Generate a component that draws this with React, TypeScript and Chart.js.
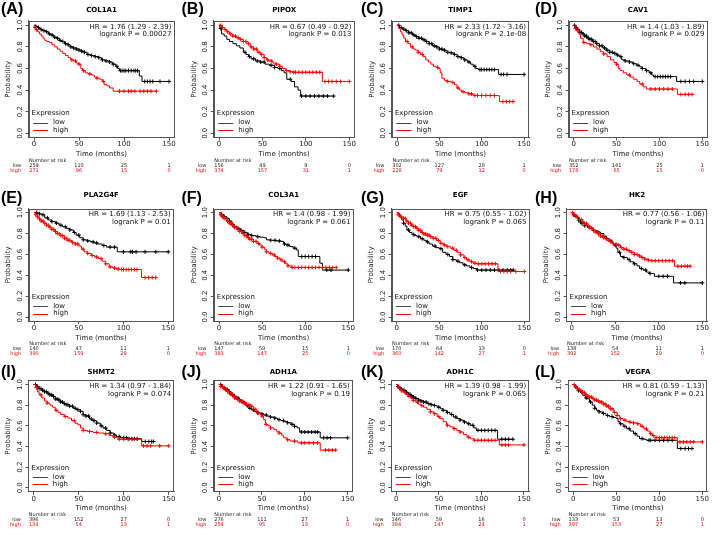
import React, { useEffect, useRef } from 'react';
import { Chart, registerables } from 'chart.js';
Chart.register(...registerables);

const FAMILY = 'DejaVu Sans';
const X_TICKS = [0, 50, 100, 150];
const Y_TICKS = [0, 0.2, 0.4, 0.6, 0.8, 1.0];
const RISK_TIMES = [0, 50, 100, 150];
const LOW_COLOR = '#000000';
const HIGH_COLOR = '#ff0000';

const PANEL_LABELS = ['(A)', '(B)', '(C)', '(D)', '(E)', '(F)', '(G)', '(H)', '(I)', '(J)', '(K)', '(L)'];
const GENES = ['COL1A1', 'PIPOX', 'TIMP1', 'CAV1', 'PLA2G4F', 'COL3A1', 'EGF', 'HK2', 'SHMT2', 'ADH1A', 'ADH1C', 'VEGFA'];
const HR_TEXT = [
  'HR = 1.76 (1.29 - 2.39)', 'HR = 0.67 (0.49 - 0.92)', 'HR = 2.33 (1.72 - 3.16)', 'HR = 1.4 (1.03 - 1.89)',
  'HR = 1.69 (1.13 - 2.53)', 'HR = 1.4 (0.98 - 1.99)', 'HR = 0.75 (0.55 - 1.02)', 'HR = 0.77 (0.56 - 1.06)',
  'HR = 1.34 (0.97 - 1.84)', 'HR = 1.22 (0.91 - 1.65)', 'HR = 1.39 (0.98 - 1.99)', 'HR = 0.81 (0.59 - 1.13)',
];
const P_TEXT = [
  'logrank P = 0.00027', 'logrank P = 0.013', 'logrank P = 2.1e-08', 'logrank P = 0.029',
  'logrank P = 0.01', 'logrank P = 0.061', 'logrank P = 0.065', 'logrank P = 0.11',
  'logrank P = 0.074', 'logrank P = 0.19', 'logrank P = 0.065', 'logrank P = 0.21',
];
const RISK_LOW = [
  [259, 110, 25, 1], [156, 49, 9, 0], [302, 127, 28, 1], [352, 141, 25, 1],
  [140, 47, 11, 1], [147, 59, 15, 1], [170, 64, 13, 0], [138, 54, 11, 1],
  [396, 152, 27, 0], [276, 111, 27, 1], [146, 59, 16, 0], [133, 53, 13, 0],
];
const RISK_HIGH = [
  [271, 96, 15, 0], [374, 157, 31, 1], [228, 79, 12, 0], [178, 65, 15, 0],
  [390, 159, 29, 0], [383, 147, 25, 0], [360, 142, 27, 1], [392, 152, 29, 0],
  [134, 54, 13, 1], [254, 95, 13, 0], [384, 147, 24, 1], [397, 153, 27, 1],
];

// ---- Kaplan-Meier step points [months, survival] and censor times ----
const A_low = [[0,1],[2,0.99],[4,0.98],[6,0.97],[8,0.96],[10,0.95],[13,0.94],[16,0.92],[19,0.91],[22,0.89],[25,0.88],[28,0.86],[31,0.85],[34,0.83],[37,0.82],[40,0.8],[43,0.79],[47,0.78],[50,0.77],[53,0.76],[56,0.75],[59,0.73],[63,0.72],[68,0.71],[72,0.7],[75,0.68],[79,0.67],[83,0.66],[87,0.64],[91,0.62],[93,0.6],[95,0.58],[117,0.53],[120,0.48],[150,0.48]];
const A_lowCens = [2,5,8,11,14,17,20,23,26,29,32,35,38,41,44,47,50,53,56,60,64,68,72,76,80,84,88,92,96,98,100,102,105,108,111,113,115,123,126,129,132,140,150];
const A_high = [[0,1],[1,0.98],[2,0.96],[4,0.94],[6,0.92],[8,0.9],[10,0.88],[12,0.86],[14,0.85],[17,0.84],[20,0.82],[23,0.8],[26,0.78],[29,0.76],[32,0.74],[35,0.72],[38,0.7],[41,0.68],[44,0.67],[47,0.65],[50,0.64],[52,0.6],[54,0.58],[57,0.56],[60,0.55],[64,0.54],[67,0.52],[70,0.51],[73,0.5],[76,0.48],[78,0.45],[81,0.44],[84,0.42],[88,0.39],[136,0.39]];
const A_highCens = [1,3,42,46,50,55,62,70,77,95,100,105,108,112,118,122,126,130,136];

const B_low = [[0,1],[1,0.97],[3,0.92],[6,0.9],[9,0.87],[12,0.85],[16,0.83],[20,0.81],[24,0.79],[28,0.75],[31,0.73],[34,0.71],[37,0.69],[42,0.67],[47,0.66],[53,0.64],[58,0.63],[64,0.61],[68,0.6],[72,0.58],[75,0.56],[78,0.5],[83,0.48],[87,0.43],[91,0.4],[94,0.345],[132,0.345]];
const B_lowCens = [2,30,35,40,44,48,52,60,64,70,82,95,100,105,110,115,120,125,132];
const B_high = [[0,1],[3,0.98],[6,0.96],[9,0.94],[12,0.92],[16,0.9],[20,0.885],[24,0.87],[28,0.85],[32,0.83],[36,0.8],[40,0.78],[44,0.75],[48,0.73],[52,0.7],[55,0.68],[57,0.67],[62,0.65],[66,0.64],[70,0.62],[73,0.6],[77,0.58],[82,0.57],[86,0.565],[117,0.565],[119,0.48],[150,0.48]];
const B_highCens = [2,4,7,10,13,16,19,22,25,28,31,34,37,40,43,46,49,52,56,60,66,70,78,82,86,88,92,96,100,104,108,112,116,122,126,130,135,140,150];

const C_low = [[0,1],[3,0.98],[6,0.965],[10,0.95],[14,0.93],[18,0.91],[22,0.895],[26,0.88],[30,0.865],[34,0.85],[38,0.83],[42,0.81],[46,0.8],[50,0.78],[54,0.77],[58,0.75],[63,0.745],[67,0.73],[71,0.71],[75,0.7],[79,0.68],[83,0.66],[87,0.64],[90,0.62],[93,0.6],[96,0.59],[118,0.59],[120,0.545],[150,0.545]];
const C_lowCens = [2,5,8,11,14,17,20,23,26,29,32,35,38,41,44,47,50,53,56,60,64,68,72,76,80,85,92,98,100,103,106,109,112,115,123,126,130,150];
const C_high = [[0,1],[2,0.97],[4,0.94],[6,0.91],[8,0.88],[10,0.85],[13,0.83],[16,0.8],[19,0.78],[22,0.77],[25,0.75],[28,0.73],[31,0.71],[34,0.68],[37,0.66],[40,0.64],[43,0.62],[46,0.61],[49,0.6],[51,0.56],[53,0.51],[56,0.49],[60,0.48],[64,0.47],[68,0.45],[71,0.42],[74,0.4],[76,0.385],[80,0.375],[85,0.365],[90,0.35],[120,0.35],[121,0.294],[137,0.294]];
const C_highCens = [12,18,25,30,48,60,66,72,78,85,88,92,95,100,105,110,115,125,129,133,137];

const D_low = [[0,1],[2,0.98],[4,0.96],[7,0.935],[10,0.92],[13,0.9],[16,0.88],[19,0.87],[22,0.85],[26,0.83],[30,0.81],[34,0.79],[38,0.77],[42,0.75],[46,0.74],[50,0.725],[53,0.71],[56,0.68],[60,0.67],[65,0.66],[69,0.645],[73,0.63],[77,0.615],[80,0.6],[84,0.58],[88,0.56],[91,0.54],[93,0.525],[118,0.525],[120,0.48],[150,0.48]];
const D_lowCens = [1,3,5,7,9,11,13,15,17,19,21,23,25,27,30,33,36,39,42,45,48,51,55,60,65,70,75,80,85,90,95,98,101,104,107,110,113,125,130,135,140,150];
const D_high = [[0,1],[2,0.97],[4,0.95],[6,0.92],[8,0.88],[11,0.84],[15,0.83],[19,0.82],[23,0.8],[27,0.78],[31,0.755],[35,0.735],[39,0.71],[43,0.68],[47,0.655],[50,0.64],[52,0.6],[54,0.58],[58,0.56],[62,0.54],[66,0.52],[70,0.5],[74,0.48],[77,0.457],[81,0.43],[85,0.41],[120,0.41],[121,0.36],[138,0.36]];
const D_highCens = [2,5,12,20,35,50,65,80,90,95,100,105,110,115,125,130,134,138];

const E_low = [[0,1],[4,0.99],[8,0.98],[12,0.95],[16,0.93],[20,0.915],[24,0.9],[28,0.88],[32,0.865],[36,0.85],[40,0.835],[44,0.81],[47,0.785],[51,0.76],[55,0.74],[59,0.73],[63,0.72],[67,0.71],[71,0.7],[76,0.685],[81,0.67],[92,0.67],[93,0.625],[150,0.625]];
const E_lowCens = [3,6,10,15,20,25,30,35,40,45,50,55,60,66,70,78,85,90,100,108,110,114,124,136,150];
const E_high = [[0,1],[2,0.98],[4,0.96],[6,0.94],[8,0.92],[11,0.9],[14,0.88],[17,0.86],[20,0.84],[23,0.82],[26,0.8],[30,0.78],[34,0.755],[38,0.735],[42,0.715],[46,0.7],[50,0.68],[53,0.65],[56,0.625],[60,0.61],[64,0.59],[68,0.575],[72,0.56],[76,0.535],[80,0.51],[84,0.48],[88,0.47],[92,0.46],[96,0.455],[118,0.455],[120,0.378],[136,0.378]];
const E_highCens = [2,4,6,8,10,12,14,16,18,20,22,24,26,28,30,32,34,36,38,40,43,46,49,55,60,65,70,75,80,85,90,94,98,100,103,106,109,112,115,124,128,132,136];

const F_low = [[0,1],[3,0.98],[6,0.96],[9,0.945],[12,0.92],[15,0.89],[18,0.865],[21,0.85],[25,0.83],[29,0.81],[33,0.79],[38,0.78],[43,0.77],[48,0.765],[52,0.76],[55,0.74],[60,0.735],[66,0.73],[71,0.725],[75,0.7],[78,0.69],[82,0.675],[86,0.66],[90,0.643],[92,0.58],[114,0.58],[117,0.516],[120,0.45],[150,0.45]];
const F_lowCens = [3,6,9,12,15,18,22,26,30,34,38,45,60,65,70,76,80,88,96,100,104,108,112,125,130,150];
const F_high = [[0,1],[2,0.98],[4,0.96],[6,0.945],[9,0.92],[12,0.9],[15,0.88],[18,0.86],[21,0.84],[24,0.82],[27,0.8],[30,0.78],[33,0.76],[36,0.745],[40,0.725],[44,0.705],[47,0.69],[50,0.67],[53,0.645],[55,0.625],[58,0.61],[62,0.595],[65,0.58],[68,0.565],[71,0.548],[74,0.53],[77,0.51],[80,0.49],[84,0.475],[136,0.475]];
const F_highCens = [2,4,6,8,10,12,14,16,18,20,22,24,26,28,30,32,34,36,38,40,43,46,50,55,60,64,68,72,76,80,85,88,92,96,100,104,108,112,116,120,124,128,132,136];

const G_low = [[0,1],[2,0.98],[4,0.96],[6,0.93],[8,0.9],[10,0.87],[12,0.834],[15,0.81],[18,0.79],[21,0.78],[24,0.77],[28,0.75],[32,0.735],[35,0.72],[38,0.7],[42,0.68],[46,0.665],[50,0.655],[54,0.62],[58,0.6],[62,0.58],[66,0.55],[70,0.535],[74,0.52],[78,0.5],[82,0.49],[86,0.475],[90,0.465],[94,0.45],[137,0.45]];
const G_lowCens = [3,8,14,20,26,30,36,45,52,60,66,72,80,88,95,100,105,110,115,120,125,130,134,137];
const G_high = [[0,1],[2,0.98],[4,0.965],[6,0.955],[8,0.946],[11,0.92],[14,0.9],[17,0.88],[20,0.866],[23,0.85],[26,0.83],[29,0.81],[32,0.795],[35,0.785],[39,0.77],[43,0.755],[47,0.735],[51,0.707],[55,0.69],[59,0.675],[63,0.66],[67,0.64],[71,0.62],[75,0.596],[79,0.57],[82,0.548],[86,0.53],[90,0.516],[94,0.51],[117,0.51],[119,0.436],[150,0.436]];
const G_highCens = [2,4,6,8,10,12,14,16,18,20,22,24,26,28,30,32,34,36,38,40,43,46,49,52,56,60,66,70,75,80,84,88,92,96,100,104,108,112,116,122,126,130,134,140,150];

const H_low = [[0,1],[2,0.98],[4,0.965],[6,0.95],[8,0.93],[10,0.91],[12,0.895],[15,0.875],[18,0.86],[21,0.85],[25,0.83],[29,0.815],[33,0.8],[37,0.775],[40,0.753],[43,0.73],[46,0.71],[48,0.69],[51,0.66],[53,0.62],[56,0.58],[60,0.57],[64,0.55],[67,0.53],[71,0.51],[75,0.49],[78,0.465],[82,0.45],[86,0.43],[90,0.417],[95,0.39],[116,0.39],[117,0.327],[150,0.327]];
const H_lowCens = [2,5,8,10,12,15,20,25,30,40,45,50,55,60,66,72,80,85,90,100,105,110,125,130,150];
const H_high = [[0,1],[2,0.98],[4,0.97],[6,0.955],[9,0.935],[12,0.91],[15,0.895],[18,0.875],[21,0.855],[24,0.835],[27,0.815],[30,0.795],[33,0.775],[36,0.76],[40,0.737],[44,0.72],[48,0.7],[52,0.69],[56,0.665],[60,0.65],[64,0.635],[68,0.62],[72,0.6],[76,0.585],[80,0.57],[84,0.555],[88,0.545],[92,0.54],[117,0.54],[118,0.487],[136,0.487]];
const H_highCens = [1,3,5,7,9,11,13,15,17,19,21,23,25,27,29,31,33,35,37,39,42,45,48,51,54,57,60,63,66,69,72,75,78,81,84,88,92,96,100,104,108,112,116,122,126,130,133,136];

const I_low = [[0,1],[3,0.98],[6,0.96],[9,0.945],[12,0.93],[15,0.915],[18,0.9],[21,0.885],[24,0.86],[27,0.85],[30,0.83],[33,0.815],[36,0.805],[40,0.79],[44,0.77],[48,0.756],[52,0.74],[55,0.708],[58,0.695],[62,0.666],[66,0.65],[70,0.627],[74,0.6],[77,0.578],[81,0.555],[85,0.53],[89,0.51],[92,0.497],[96,0.485],[105,0.475],[118,0.475],[120,0.448],[133,0.448]];
const I_lowCens = [2,4,6,8,10,12,14,16,18,20,22,24,26,28,30,32,34,36,38,40,43,46,49,52,55,58,61,64,67,70,75,80,85,90,95,100,103,106,109,112,115,124,128,131,133];
const I_high = [[0,1],[2,0.97],[4,0.93],[6,0.9],[9,0.87],[12,0.84],[15,0.82],[18,0.8],[21,0.78],[24,0.75],[27,0.73],[30,0.71],[34,0.69],[38,0.675],[42,0.65],[46,0.625],[49,0.61],[52,0.58],[55,0.555],[60,0.545],[66,0.536],[72,0.53],[78,0.523],[84,0.505],[88,0.49],[94,0.47],[118,0.47],[120,0.406],[150,0.406]];
const I_highCens = [3,8,15,25,35,45,55,62,70,80,90,95,100,105,110,115,122,126,130,140,150];

const J_low = [[0,1],[3,0.98],[5,0.968],[8,0.95],[11,0.93],[14,0.905],[17,0.887],[20,0.87],[23,0.85],[26,0.835],[29,0.82],[32,0.795],[35,0.77],[38,0.755],[41,0.74],[44,0.726],[48,0.715],[52,0.705],[56,0.694],[60,0.685],[64,0.675],[68,0.66],[72,0.65],[76,0.64],[80,0.63],[84,0.615],[88,0.595],[91,0.58],[94,0.54],[117,0.54],[118,0.484],[150,0.484]];
const J_lowCens = [2,4,6,8,10,12,14,16,18,20,22,24,26,28,30,33,36,40,45,50,55,60,65,70,75,80,85,88,96,100,104,108,112,115,122,126,130,150];
const J_high = [[0,1],[2,0.98],[5,0.96],[9,0.935],[12,0.915],[15,0.895],[18,0.87],[21,0.855],[24,0.84],[28,0.825],[32,0.806],[36,0.79],[40,0.76],[44,0.726],[48,0.71],[50,0.694],[52,0.66],[54,0.613],[57,0.6],[60,0.58],[64,0.565],[67,0.548],[70,0.53],[73,0.51],[75,0.484],[79,0.465],[83,0.452],[92,0.435],[117,0.435],[118,0.365],[136,0.365]];
const J_highCens = [2,4,6,8,10,12,14,16,18,20,22,24,26,28,30,32,35,38,42,46,50,55,60,70,80,88,96,100,105,110,115,124,128,132,136];

const K_low = [[0,1],[2,0.98],[4,0.965],[6,0.955],[8,0.942],[11,0.925],[14,0.905],[17,0.89],[20,0.878],[23,0.865],[26,0.85],[29,0.84],[32,0.83],[36,0.815],[40,0.805],[44,0.797],[48,0.78],[52,0.765],[55,0.75],[59,0.73],[63,0.71],[67,0.685],[71,0.67],[75,0.655],[79,0.637],[83,0.62],[87,0.605],[91,0.58],[94,0.556],[118,0.556],[119,0.47],[137,0.47]];
const K_lowCens = [2,4,6,8,10,12,14,16,18,20,23,26,29,32,35,38,41,45,50,55,60,65,70,75,80,85,90,96,100,104,108,112,116,124,128,132,137];
const K_high = [[0,1],[2,0.975],[4,0.955],[6,0.94],[8,0.926],[11,0.905],[14,0.885],[17,0.865],[20,0.846],[23,0.83],[26,0.81],[29,0.795],[32,0.78],[36,0.76],[40,0.735],[44,0.717],[48,0.69],[51,0.67],[55,0.64],[59,0.605],[63,0.59],[67,0.572],[71,0.555],[75,0.54],[79,0.515],[83,0.49],[87,0.475],[91,0.46],[120,0.46],[121,0.415],[150,0.415]];
const K_highCens = [3,6,10,15,20,25,30,40,45,50,60,68,75,85,92,96,100,104,108,112,116,124,128,132,150];

const L_low = [[0,1],[2,0.975],[4,0.955],[6,0.94],[8,0.926],[11,0.895],[14,0.87],[16,0.862],[19,0.83],[22,0.8],[25,0.77],[27,0.75],[30,0.735],[34,0.72],[38,0.7],[42,0.69],[46,0.68],[50,0.67],[52,0.64],[54,0.62],[58,0.595],[62,0.572],[66,0.55],[70,0.524],[74,0.5],[77,0.476],[81,0.47],[85,0.46],[120,0.46],[121,0.38],[138,0.38]];
const L_lowCens = [3,6,10,15,20,25,30,35,40,45,55,60,65,72,80,88,90,95,100,105,110,115,125,130,134,138];
const L_high = [[0,1],[2,0.98],[4,0.965],[6,0.95],[8,0.942],[11,0.92],[14,0.9],[17,0.885],[19,0.878],[22,0.865],[25,0.85],[28,0.84],[31,0.83],[35,0.81],[39,0.79],[43,0.765],[47,0.73],[51,0.7],[54,0.67],[58,0.655],[62,0.643],[66,0.635],[70,0.628],[74,0.62],[78,0.595],[82,0.57],[86,0.55],[89,0.524],[92,0.505],[95,0.486],[120,0.486],[121,0.444],[150,0.444]];
const L_highCens = [1,3,5,7,9,11,13,15,17,19,21,23,25,27,29,31,33,35,37,39,41,43,45,48,51,55,60,66,70,75,80,85,90,93,97,100,103,106,109,112,115,118,124,128,132,136,140,150];

const LOW_CURVES = [A_low, B_low, C_low, D_low, E_low, F_low, G_low, H_low, I_low, J_low, K_low, L_low];
const LOW_CENS = [A_lowCens, B_lowCens, C_lowCens, D_lowCens, E_lowCens, F_lowCens, G_lowCens, H_lowCens, I_lowCens, J_lowCens, K_lowCens, L_lowCens];
const HIGH_CURVES = [A_high, B_high, C_high, D_high, E_high, F_high, G_high, H_high, I_high, J_high, K_high, L_high];
const HIGH_CENS = [A_highCens, B_highCens, C_highCens, D_highCens, E_highCens, F_highCens, G_highCens, H_highCens, I_highCens, J_highCens, K_highCens, L_highCens];

// ---- layout (page pixels) ----
const PANEL_XPIX = [
  [34, 169], [219, 349.3], [397, 524], [573.7, 702.3],
  [34, 168.3], [219, 348.3], [396.7, 524.3], [571.7, 702.3],
  [33.7, 168.7], [219, 347.7], [396.3, 524], [573.3, 702.3],
];
const ROW_YPIX = [[25.3, 133.3], [212.7, 317], [384.5, 487.8]];
const ROW_TOP = [0, 180, 360];
const ROW_H = [180, 180, 183];
const ROW_TITLE_Y = [10, 15, 12.3];
const ROW_XTITLE_OFF = [16.7, 17, 15.8];
const LABEL_X = [1, 181.5, 361, 535];
const LABEL_CY = [8.8, 197.8, 372.5];

function geom(i: number) {
  const col = i % 4;
  const row = Math.floor(i / 4);
  const [x0, x150] = PANEL_XPIX[i];
  const [y1, y0] = ROW_YPIX[row];
  const pxm = (x150 - x0) / 150;
  const ppu = y0 - y1;
  const cl = col * 180;
  const ct = ROW_TOP[row];
  const cw = 180;
  const ch = ROW_H[row];
  return {
    col, row, cl, ct, cw, ch,
    aL: x0 - 6 * pxm, aR: x150 + 6 * pxm,
    aT: y1 - 0.04 * ppu, aB: y0 + 0.04 * ppu,
  };
}

function survAt(curve: number[][], t: number) {
  let s = 1;
  for (const [tt, ss] of curve) {
    if (tt <= t) s = ss;
    else break;
  }
  return s;
}

function makeOverlay(i: number, g: any) {
  return {
    id: 'kmOverlay' + i,
    afterDraw(chart: any) {
      const { ctx, chartArea: a, scales } = chart;
      const x = scales.x;
      const y = scales.y;
      ctx.save();
      // box
      ctx.strokeStyle = '#555';
      ctx.lineWidth = 1;
      ctx.strokeRect(Math.round(a.left) + 0.5, Math.round(a.top) + 0.5, Math.round(a.right - a.left) - 1, Math.round(a.bottom - a.top) - 1);
      // y tick labels (rotated, R style)
      ctx.fillStyle = '#222';
      ctx.font = `7px "${FAMILY}"`;
      for (const v of Y_TICKS) {
        const py = y.getPixelForValue(v);
        ctx.save();
        ctx.translate(a.left - 8.5, py);
        ctx.rotate(-Math.PI / 2);
        ctx.textAlign = 'center';
        ctx.textBaseline = 'middle';
        ctx.fillText(v.toFixed(1), 0, 0);
        ctx.restore();
      }
      // gene title
      ctx.font = `bold 7px "${FAMILY}"`;
      ctx.textAlign = 'center';
      ctx.textBaseline = 'middle';
      ctx.fillStyle = '#000';
      ctx.fillText(GENES[i], (a.left + a.right) / 2, ROW_TITLE_Y[g.row]);
      // HR text
      ctx.font = `7px "${FAMILY}"`;
      ctx.textAlign = 'right';
      ctx.fillStyle = '#111';
      ctx.fillText(HR_TEXT[i], a.right - 3, a.top + 5.8);
      ctx.fillText(P_TEXT[i], a.right - 3, a.top + 13.7);
      // legend
      ctx.textAlign = 'left';
      ctx.fillText('Expression', a.left + 3, a.bottom - 24);
      ctx.fillText('low', a.left + 24.5, a.bottom - 15);
      ctx.fillText('high', a.left + 24.5, a.bottom - 7.5);
      ctx.lineWidth = 1;
      ctx.strokeStyle = '#444';
      ctx.beginPath();
      ctx.moveTo(a.left + 4.5, Math.round(a.bottom - 15) + 0.5);
      ctx.lineTo(a.left + 19.5, Math.round(a.bottom - 15) + 0.5);
      ctx.stroke();
      ctx.strokeStyle = HIGH_COLOR;
      ctx.beginPath();
      ctx.moveTo(a.left + 4.5, Math.round(a.bottom - 7.5) + 0.5);
      ctx.lineTo(a.left + 19.5, Math.round(a.bottom - 7.5) + 0.5);
      ctx.stroke();
      // number at risk table
      ctx.font = `5px "${FAMILY}"`;
      ctx.fillStyle = '#222';
      ctx.textAlign = 'left';
      ctx.fillText('Number at risk', a.left + 0.5, a.bottom + 22.7);
      ctx.textAlign = 'right';
      ctx.fillText('low', a.left - 7.5, a.bottom + 28);
      ctx.fillStyle = HIGH_COLOR;
      ctx.fillText('high', a.left - 7.5, a.bottom + 33);
      ctx.textAlign = 'center';
      RISK_TIMES.forEach((t, k) => {
        const px = x.getPixelForValue(t);
        ctx.fillStyle = '#222';
        ctx.fillText(String(RISK_LOW[i][k]), px, a.bottom + 28);
        ctx.fillStyle = HIGH_COLOR;
        ctx.fillText(String(RISK_HIGH[i][k]), px, a.bottom + 33);
      });
      ctx.restore();
    },
  };
}

function KMPanel({ i }: { i: number }) {
  const ref = useRef<HTMLCanvasElement>(null);
  const g = geom(i);
  useEffect(() => {
    const low = LOW_CURVES[i];
    const high = HIGH_CURVES[i];
    const W = g.aL - g.cl;
    const H = g.ct + g.ch - g.aB;
    const xTitleY = g.aB + ROW_XTITLE_OFF[g.row];
    const chart = new Chart(ref.current as HTMLCanvasElement, {
      type: 'scatter',
      data: {
        datasets: [
          {
            label: 'high',
            data: high.map(([t, s]) => ({ x: t, y: s })),
            showLine: true, stepped: true, borderColor: HIGH_COLOR, borderWidth: 1,
            pointRadius: 0, pointHoverRadius: 0,
          },
          {
            label: 'high censored',
            data: HIGH_CENS[i].map((t) => ({ x: t, y: survAt(high, t) })),
            showLine: false, pointStyle: 'cross', pointRadius: 2, borderColor: HIGH_COLOR, borderWidth: 1,
          },
          {
            label: 'low',
            data: low.map(([t, s]) => ({ x: t, y: s })),
            showLine: true, stepped: true, borderColor: LOW_COLOR, borderWidth: 1,
            pointRadius: 0, pointHoverRadius: 0,
          },
          {
            label: 'low censored',
            data: LOW_CENS[i].map((t) => ({ x: t, y: survAt(low, t) })),
            showLine: false, pointStyle: 'cross', pointRadius: 2, borderColor: LOW_COLOR, borderWidth: 1,
          },
        ],
      } as any,
      options: {
        responsive: false,
        animation: false,
        events: [],
        layout: { padding: { left: 0, right: g.cl + g.cw - g.aR, top: g.aT - g.ct, bottom: 0 } },
        plugins: { legend: { display: false }, tooltip: { enabled: false }, title: { display: false } },
        scales: {
          x: {
            type: 'linear', min: -6, max: 156,
            afterBuildTicks: (s: any) => { s.ticks = X_TICKS.map((v) => ({ value: v })); },
            afterFit: (s: any) => { s.height = H; },
            grid: { display: true, drawOnChartArea: false, drawTicks: true, tickLength: 3, color: '#555' },
            border: { display: true, color: '#555' },
            ticks: { font: { family: FAMILY, size: 7, lineHeight: 1 }, color: '#222', padding: 0.5, maxRotation: 0, autoSkip: false },
            title: {
              display: true, text: 'Time (months)', color: '#222',
              font: { family: FAMILY, size: 7, lineHeight: 1.2 },
              padding: { top: 0, bottom: g.ct + g.ch - xTitleY - 4.2 },
            },
          },
          y: {
            type: 'linear', min: -0.04, max: 1.04,
            afterBuildTicks: (s: any) => { s.ticks = Y_TICKS.map((v) => ({ value: v })); },
            afterFit: (s: any) => { s.width = W; },
            grid: { display: true, drawOnChartArea: false, drawTicks: true, tickLength: 3, color: '#555' },
            border: { display: true, color: '#555' },
            ticks: { display: false },
            title: {
              display: true, text: 'Probability', color: '#222',
              font: { family: FAMILY, size: 7, lineHeight: 1.2 },
              padding: { top: W - 20 - 4.2, bottom: 0 },
            },
          },
        },
      } as any,
      plugins: [makeOverlay(i, g)],
    });
    return () => chart.destroy();
  }, [i]);
  return (
    <canvas
      ref={ref}
      width={g.cw}
      height={g.ch}
      style={{ position: 'absolute', left: g.cl, top: g.ct, width: g.cw, height: g.ch }}
    />
  );
}

export default function App() {
  return (
    <div style={{ position: 'absolute', left: 0, top: 0, width: 720, height: 543, background: '#fff', overflow: 'hidden' }}>
      {PANEL_LABELS.map((_, i) => <KMPanel key={'p' + i} i={i} />)}
      {PANEL_LABELS.map((lab, i) => (
        <div
          key={'l' + i}
          style={{
            position: 'absolute',
            left: LABEL_X[i % 4],
            top: LABEL_CY[Math.floor(i / 4)] - 8.3,
            font: 'bold 16px "Liberation Sans", Arial, sans-serif',
            lineHeight: '16px',
            color: '#000',
            whiteSpace: 'nowrap',
          }}
        >
          {lab}
        </div>
      ))}
    </div>
  );
}
